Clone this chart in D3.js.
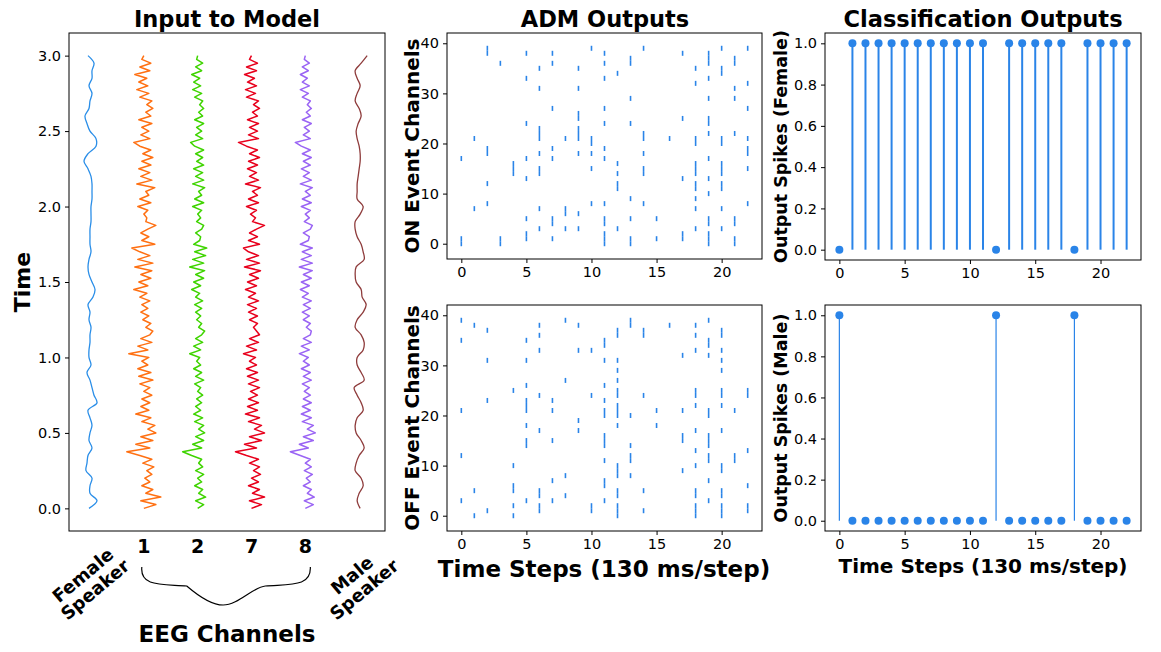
<!DOCTYPE html>
<html>
<head>
<meta charset="utf-8">
<script src="https://cdn.jsdelivr.net/npm/d3@7"></script>
<style>
  body { margin: 0; background: #fff; }
  text { font-family: "DejaVu Sans", sans-serif; }
  .tick text { font-size: 14.5px; fill: #000; }
  .tick line { stroke: #000; }
  .bold { font-weight: bold; fill: #000; }
</style>
</head>
<body>
<script>
// ---------------- data ----------------
// left panel: signals sampled every 0.025 s (eeg) and 0.05 s (speech), amplitude in arbitrary units
var eegStep = 0.025;
var speechStep = 0.05;
var traceNames = ['Female\nSpeaker', '1', '2', '7', '8', 'Male\nSpeaker'];
var traceColors = ['#2a8ee8', '#ff7012', '#3fd400', '#e8001c', '#9a64f4', '#8e3b3b'];

var femaleSpeech = [-1, 7, 0, 0, 2, -4, -3, -2, 2, -1, 0, 2, 0, -2, 7, 4, 2, 0, -3, 1, -1,
  -1, 0, 0, 1, -1, 0, -2, 3, 5, 2, -1, -2, -1, 1, 0, 0, 0, 1, 1, 1,
  2, 2, 2, 1, -2, -6, -2, 6, 6, 0, -3, -5, -1, 0, 2, -1, 2, 2, 4, -2];
var maleSpeech = [1, -2, 0, 4, 2, -4, -3, 0, 5, 2, -3, -4, -2, 4, 2, -2, -5, 5, 2, -2, -2,
  4, 5, 2, -4, -2, 4, 7, 3, 2, -3, -4, -3, 5, 4, 2, -2, -4, -4, 1, 4,
  -2, -2, -2, -1, 0, 1, 1, 0, -2, -3, -1, 2, 0, -4, -2, 1, -2, -4, 2, 8];

var eeg1 = [0, 12, -3, 17, 2, 9, -2, 6, 1, 8,
  3, 10, -1, 8, -4, -17, 6, -8, 9, -3,
  12, 4, 11, -2, 7, -8, 5, -3, 6, -2,
  8, 0, 6, -4, 9, -5, 7, -6, 4, -2,
  5, -15, 4, -6, 8, -3, 6, 9, 2, 7,
  -1, 5, -3, 4, -2, 6, -4, 3, -10, 4,
  -5, 7, -3, 8, -9, 9, -6, 6, -4, -12,
  11, -2, 5, -3, 4, 12, 2, 3, 0, 4,
  -6, 7, -4, 5, 2, 11, -7, 8, -3, 6,
  -5, 7, -2, 9, -1, 7, -4, -10, 6, -3,
  5, -2, 8, -5, 7, 2, 9, 3, 8, -4,
  5, -7, 4, -5, 3, -9, 6, -4, 7, -2, 0];
var eeg2 = [0, 6, -2, 8, 1, 5, -3, 4, 0, 6,
  -2, 5, 1, 4, -6, -15, 4, -5, 6, -2,
  7, 1, 6, -3, 5, -4, 3, -2, 4, -1,
  5, 0, 3, -3, 6, -2, 4, -4, 3, -1,
  2, -8, 3, -4, 5, -2, 4, 7, 1, 4,
  -1, 3, -2, 4, -3, 5, -2, 2, -6, 3,
  -4, 6, -2, 7, -8, 6, -5, 8, -3, 9,
  -4, 2, 3, -2, 4, 6, -1, 3, 0, 4,
  -5, 6, -3, 4, 1, 7, -5, 6, -2, 5,
  -4, 6, -1, 5, -2, 6, -3, -7, 5, -2,
  4, -1, 6, -3, 5, 1, 6, 2, 5, -3,
  4, -5, 3, -4, 2, -6, 4, -2, 5, -1, 0];
var eeg7 = [0, 10, -2, 13, 1, 8, -3, 7, 0, 9,
  2, 8, -2, 7, -5, -16, 5, -7, 10, -2,
  13, 3, 10, -3, 8, -6, 6, -4, 7, -3,
  6, -1, 8, -3, 7, -4, 6, -5, 5, -2,
  4, -8, 5, -5, 7, -2, 8, 5, 2, 6,
  -2, 6, -3, 5, -4, 7, -3, 4, -6, 5,
  -4, 7, -2, 9, -7, 8, -5, 7, -3, -8,
  8, -3, 6, -2, 5, 13, 1, 4, -1, 5,
  -5, 7, -3, 6, 1, 9, -6, 7, -2, 5,
  -4, 6, -3, 8, -2, 6, -5, -13, 7, -3,
  6, -2, 7, -4, 6, 1, 8, 2, 7, -5,
  4, -6, 5, -4, 3, -7, 5, -5, 6, -2, 0];
var eeg8 = [0, 8, -1, 9, 2, 6, -2, 5, 1, 7,
  -1, 6, 0, 5, -5, -15, 3, -6, 8, -2,
  10, 2, 8, -3, 6, -4, 5, -3, 6, -2,
  5, -1, 4, -3, 6, -2, 5, -4, 4, -2,
  3, -6, 4, -4, 6, -2, 5, 6, 1, 5,
  -2, 4, -3, 5, -2, 6, -3, 3, -5, 4,
  -4, 6, -2, 7, -6, 7, -4, 6, -3, 7,
  -5, 3, 4, -2, 5, 7, -1, 4, 0, 5,
  -4, 6, -3, 5, 0, 7, -5, 6, -2, 4,
  -4, 5, -2, 6, -3, 5, -4, -10, 5, -2,
  4, -1, 6, -3, 5, 1, 6, 2, 5, -3,
  3, -5, 4, -3, 2, -5, 3, -3, 4, -1, 0];

// ADM outputs: channels that fire at each time step (index = time step)
var onEvents = [
  [0, 1, 17], [7, 21], [8, 12, 18, 19, 38, 39], [0, 1, 36], [14, 15, 16],
  [1, 2, 5, 13, 17, 24, 33, 38], [3, 7, 14, 15, 18, 21, 22, 23, 31, 35],
  [1, 4, 5, 17, 19, 27, 36, 38], [3, 6, 7, 21], [3, 6, 18, 21, 22, 23, 25, 26, 31, 35],
  [8, 15, 18, 20, 21, 39], [0, 1, 2, 4, 5, 8, 17, 19, 24, 27, 33, 36, 38],
  [3, 11, 12, 14, 16, 34], [0, 1, 5, 9, 24, 29, 36, 37], [8, 14, 15, 18, 21, 22, 39],
  [1, 5], [21], [1, 2, 13, 25, 38], [3, 7, 9, 11, 12, 14, 15, 16, 20, 21, 32, 35],
  [0, 1, 2, 4, 5, 10, 13, 17, 22, 24, 25, 29, 33, 36, 37, 38],
  [3, 7, 11, 12, 14, 15, 16, 20, 21, 34, 35, 39], [0, 1, 4, 5, 22, 29, 31, 36, 37],
  [8, 15, 18, 19, 21, 27, 32, 39]];
var offEvents = [
  [3, 12, 21, 35, 39], [0, 5, 38], [1, 23, 31, 37], [], [0, 2, 5, 6, 10, 25],
  [3, 14, 15, 18, 21, 22, 23, 26, 31, 35], [1, 2, 4, 5, 17, 24, 33, 36, 38],
  [3, 7, 15, 21, 23], [4, 8, 27, 39], [17, 19, 33, 38], [1, 2, 24, 33],
  [3, 6, 7, 11, 14, 15, 16, 20, 21, 23, 26, 31, 34, 35],
  [0, 1, 2, 4, 5, 8, 9, 10, 18, 20, 21, 22, 24, 25, 27, 29, 31, 36, 37],
  [8, 11, 12, 14, 20, 38, 39], [1, 5, 24, 36, 37], [18, 21], [38], [9, 15, 16, 21, 32],
  [0, 1, 2, 4, 5, 10, 13, 17, 22, 24, 25, 33, 36, 38],
  [3, 7, 11, 12, 14, 15, 16, 20, 21, 32, 34, 35, 39],
  [0, 1, 2, 4, 5, 9, 10, 17, 22, 24, 25, 29, 31, 33, 36, 37], [11, 12, 21],
  [1, 2, 6, 13, 24, 25]];

// classification outputs per time step
var femaleSpikes = [0, 1, 1, 1, 1, 1, 1, 1, 1, 1, 1, 1, 0, 1, 1, 1, 1, 1, 0, 1, 1, 1, 1];
var maleSpikes = [1, 0, 0, 0, 0, 0, 0, 0, 0, 0, 0, 0, 1, 0, 0, 0, 0, 0, 1, 0, 0, 0, 0];

var timeTicks = [0, 0.5, 1.0, 1.5, 2.0, 2.5, 3.0];
var stepTicks = [0, 5, 10, 15, 20];
var channelTicks = [0, 10, 20, 30, 40];
var spikeTicks = [0, 0.2, 0.4, 0.6, 0.8, 1.0];

var blue = '#2a84e8';

// ---------------- svg ----------------
var svg = d3.select('body').append('svg')
  .attr('width', 1161).attr('height', 652);

function frame(x0, x1, y0, y1) {
  svg.append('rect')
    .attr('x', x0).attr('y', y0)
    .attr('width', x1 - x0).attr('height', y1 - y0)
    .attr('fill', 'none').attr('stroke', '#000').attr('stroke-width', 1);
}
function boldText(x, y, str, size, rot) {
  var t = svg.append('text').attr('class', 'bold')
    .attr('text-anchor', 'middle')
    .style('font-size', size + 'px')
    .attr('transform', 'translate(' + x + ',' + y + ')' + (rot ? ' rotate(' + rot + ')' : ''));
  str.split('\n').forEach(function(s, i) {
    t.append('tspan').attr('x', 0).attr('dy', i === 0 ? 0 : '1.05em').text(s);
  });
  return t;
}
function styleAxis(g) {
  g.select('.domain').remove();
  g.selectAll('.tick line').attr('stroke-width', 1);
}

/* ------------------- left panel ------------------- */
var lp = { x0: 69, x1: 385, y0: 33, y1: 531 };
var tx = d3.scaleLinear().domain([-0.39, 5.48]).range([lp.x0, lp.x1]);
var ty = d3.scaleLinear().domain([-0.15, 3.15]).range([lp.y1, lp.y0]);
var ampScale = 1 / 53.8; // amplitude unit -> channel spacing

var traces = [
  { vals: femaleSpeech, step: speechStep, curve: d3.curveCatmullRom, w: 1.3 },
  { vals: eeg1, step: eegStep, curve: d3.curveLinear, w: 1.5 },
  { vals: eeg2, step: eegStep, curve: d3.curveLinear, w: 1.5 },
  { vals: eeg7, step: eegStep, curve: d3.curveLinear, w: 1.5 },
  { vals: eeg8, step: eegStep, curve: d3.curveLinear, w: 1.5 },
  { vals: maleSpeech, step: speechStep, curve: d3.curveCatmullRom, w: 1.3 }
];

traces.forEach(function(tr, k) {
  var line = d3.line()
    .x(function(v) { return tx(k + v * ampScale); })
    .y(function(v, i) { return ty(i * tr.step); })
    .curve(tr.curve);
  svg.append('path')
    .attr('d', line(tr.vals))
    .attr('fill', 'none')
    .attr('stroke', traceColors[k])
    .attr('stroke-width', tr.w)
    .attr('stroke-linejoin', 'round');
});

svg.append('g').attr('transform', 'translate(' + lp.x0 + ',0)')
  .call(d3.axisLeft(ty).tickValues(timeTicks).tickFormat(d3.format('.1f')).tickSize(4).tickPadding(4))
  .call(styleAxis);
frame(lp.x0, lp.x1, lp.y0, lp.y1);

boldText((lp.x0 + lp.x1) / 2, 27, 'Input to Model', 22.5);
boldText(30, (lp.y0 + lp.y1) / 2, 'Time', 22, -90);

// channel labels under the axis
traceNames.forEach(function(name, k) {
  if (k === 0 || k === 5) {
    boldText(tx(k) - 3, 580, name, 18, -40);
  } else {
    boldText(tx(k), 553, name, 19);
  }
});

// curly brace under eeg channels
var bx0 = tx(1) - 2, bx1 = tx(4) + 5, bmid = (bx0 + bx1) / 2 - 3;
var braceTop = 567, braceMid = 585, braceTip = 605;
var brace = d3.path();
brace.moveTo(bx0, braceTop);
brace.bezierCurveTo(bx0 - 2, braceMid + 2, bx0 + 20, braceMid - 1, bx0 + 45, braceMid + 1);
brace.bezierCurveTo(bmid - 35, braceMid + 2, bmid - 15, braceTip, bmid, braceTip);
brace.bezierCurveTo(bmid + 15, braceTip, bmid + 30, braceMid + 2, bx1 - 45, braceMid + 1);
brace.bezierCurveTo(bx1 - 20, braceMid - 1, bx1 + 1, braceMid + 2, bx1, braceTop);
svg.append('path').attr('d', brace.toString())
  .attr('fill', 'none').attr('stroke', '#000').attr('stroke-width', 1.2);

boldText((lp.x0 + lp.x1) / 2, 642, 'EEG Channels', 23);

/* ------------------- ADM rasters ------------------- */
var mx = d3.scaleLinear().domain([-1.1, 23.1]).range([447, 762]);

function raster(events, y0, y1, label) {
  var cy = d3.scaleLinear().domain([-3.05, 42.05]).range([y1, y0]);
  var g = svg.append('g');
  events.forEach(function(chs, t) {
    g.selectAll(null).data(chs).enter().append('line')
      .attr('x1', mx(t)).attr('x2', mx(t))
      .attr('y1', function(c) { return cy(c - 0.5); })
      .attr('y2', function(c) { return cy(c + 0.5); })
      .attr('stroke', blue).attr('stroke-width', 1.6);
  });
  svg.append('g').attr('transform', 'translate(447,0)')
    .call(d3.axisLeft(cy).tickValues(channelTicks).tickSize(4).tickPadding(4))
    .call(styleAxis);
  svg.append('g').attr('transform', 'translate(0,' + y1 + ')')
    .call(d3.axisBottom(mx).tickValues(stepTicks).tickSize(4).tickPadding(4))
    .call(styleAxis);
  frame(447, 762, y0, y1);
  boldText(419, (y0 + y1) / 2, label, 20, -90);
}
raster(onEvents, 33, 259, 'ON Event Channels');
raster(offEvents, 305, 531, 'OFF Event Channels');
boldText(605, 27, 'ADM Outputs', 22.5);
boldText(604, 577, 'Time Steps (130 ms/step)', 23);

/* ------------------- classification stems ------------------- */
var rx = d3.scaleLinear().domain([-1.1, 23.1]).range([825, 1141]);

function stems(vals, y0, y1, label, sw) {
  var sy = d3.scaleLinear().domain([-0.05, 1.05]).range([y1, y0]);
  var g = svg.append('g');
  vals.forEach(function(v, i) {
    if (v !== 0) {
      g.append('line')
        .attr('x1', rx(i)).attr('x2', rx(i))
        .attr('y1', sy(0)).attr('y2', sy(v))
        .attr('stroke', blue).attr('stroke-width', sw);
    }
  });
  g.selectAll('circle').data(vals).enter().append('circle')
    .attr('cx', function(v, i) { return rx(i); })
    .attr('cy', function(v) { return sy(v); })
    .attr('r', 4).attr('fill', blue);
  svg.append('g').attr('transform', 'translate(825,0)')
    .call(d3.axisLeft(sy).tickValues(spikeTicks).tickFormat(d3.format('.1f')).tickSize(4).tickPadding(4))
    .call(styleAxis);
  svg.append('g').attr('transform', 'translate(0,' + y1 + ')')
    .call(d3.axisBottom(rx).tickValues(stepTicks).tickSize(4).tickPadding(4))
    .call(styleAxis);
  frame(825, 1141, y0, y1);
  boldText(787, (y0 + y1) / 2, label, 17.5, -90);
}
stems(femaleSpikes, 33, 260, 'Output Spikes (Female)', 2);
stems(maleSpikes, 305, 531, 'Output Spikes (Male)', 1.2);
boldText(983, 27, 'Classification Outputs', 22.5);
boldText(983, 573, 'Time Steps (130 ms/step)', 20);
</script>
</body>
</html>
